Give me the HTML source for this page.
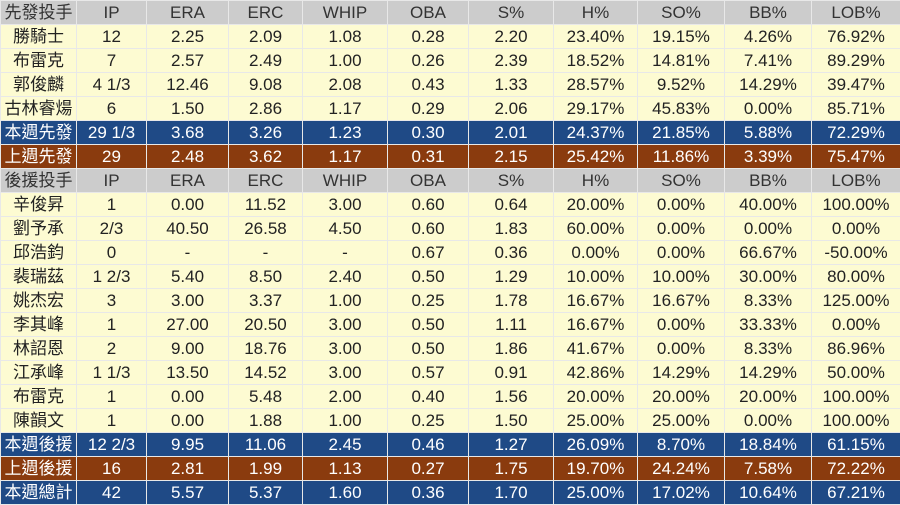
<!DOCTYPE html>
<html><head><meta charset="utf-8"><style>
body{margin:0;width:900px;height:504px;background:#fff;overflow:hidden}
table{border-collapse:collapse;table-layout:fixed;width:900px;font-family:"Liberation Sans","Noto Sans CJK TC",sans-serif;font-size:17px}
td{height:23px;padding:0;border:1px solid #e8e8e8;text-align:center;color:#222;background:#fdfbd2;line-height:23px;white-space:nowrap;overflow:hidden}
tr.h td{background:#cccccc;color:#333}
tr.b td{background:#1f4a86;color:#fff}
tr.r td{background:#8a3b0e;color:#fff}
</style></head><body>
<table>
<colgroup><col style="width:76px"><col style="width:70px"><col style="width:82px"><col style="width:74px"><col style="width:85px"><col style="width:81px"><col style="width:85px"><col style="width:84px"><col style="width:87px"><col style="width:87px"><col style="width:89px"></colgroup>
<tr class="h"><td>先發投手</td><td>IP</td><td>ERA</td><td>ERC</td><td>WHIP</td><td>OBA</td><td>S%</td><td>H%</td><td>SO%</td><td>BB%</td><td>LOB%</td></tr>
<tr><td>勝騎士</td><td>12</td><td>2.25</td><td>2.09</td><td>1.08</td><td>0.28</td><td>2.20</td><td>23.40%</td><td>19.15%</td><td>4.26%</td><td>76.92%</td></tr>
<tr><td>布雷克</td><td>7</td><td>2.57</td><td>2.49</td><td>1.00</td><td>0.26</td><td>2.39</td><td>18.52%</td><td>14.81%</td><td>7.41%</td><td>89.29%</td></tr>
<tr><td>郭俊麟</td><td>4 1/3</td><td>12.46</td><td>9.08</td><td>2.08</td><td>0.43</td><td>1.33</td><td>28.57%</td><td>9.52%</td><td>14.29%</td><td>39.47%</td></tr>
<tr><td>古林睿煬</td><td>6</td><td>1.50</td><td>2.86</td><td>1.17</td><td>0.29</td><td>2.06</td><td>29.17%</td><td>45.83%</td><td>0.00%</td><td>85.71%</td></tr>
<tr class="b"><td>本週先發</td><td>29 1/3</td><td>3.68</td><td>3.26</td><td>1.23</td><td>0.30</td><td>2.01</td><td>24.37%</td><td>21.85%</td><td>5.88%</td><td>72.29%</td></tr>
<tr class="r"><td>上週先發</td><td>29</td><td>2.48</td><td>3.62</td><td>1.17</td><td>0.31</td><td>2.15</td><td>25.42%</td><td>11.86%</td><td>3.39%</td><td>75.47%</td></tr>
<tr class="h"><td>後援投手</td><td>IP</td><td>ERA</td><td>ERC</td><td>WHIP</td><td>OBA</td><td>S%</td><td>H%</td><td>SO%</td><td>BB%</td><td>LOB%</td></tr>
<tr><td>辛俊昇</td><td>1</td><td>0.00</td><td>11.52</td><td>3.00</td><td>0.60</td><td>0.64</td><td>20.00%</td><td>0.00%</td><td>40.00%</td><td>100.00%</td></tr>
<tr><td>劉予承</td><td>2/3</td><td>40.50</td><td>26.58</td><td>4.50</td><td>0.60</td><td>1.83</td><td>60.00%</td><td>0.00%</td><td>0.00%</td><td>0.00%</td></tr>
<tr><td>邱浩鈞</td><td>0</td><td>-</td><td>-</td><td>-</td><td>0.67</td><td>0.36</td><td>0.00%</td><td>0.00%</td><td>66.67%</td><td>-50.00%</td></tr>
<tr><td>裴瑞茲</td><td>1 2/3</td><td>5.40</td><td>8.50</td><td>2.40</td><td>0.50</td><td>1.29</td><td>10.00%</td><td>10.00%</td><td>30.00%</td><td>80.00%</td></tr>
<tr><td>姚杰宏</td><td>3</td><td>3.00</td><td>3.37</td><td>1.00</td><td>0.25</td><td>1.78</td><td>16.67%</td><td>16.67%</td><td>8.33%</td><td>125.00%</td></tr>
<tr><td>李其峰</td><td>1</td><td>27.00</td><td>20.50</td><td>3.00</td><td>0.50</td><td>1.11</td><td>16.67%</td><td>0.00%</td><td>33.33%</td><td>0.00%</td></tr>
<tr><td>林詔恩</td><td>2</td><td>9.00</td><td>18.76</td><td>3.00</td><td>0.50</td><td>1.86</td><td>41.67%</td><td>0.00%</td><td>8.33%</td><td>86.96%</td></tr>
<tr><td>江承峰</td><td>1 1/3</td><td>13.50</td><td>14.52</td><td>3.00</td><td>0.57</td><td>0.91</td><td>42.86%</td><td>14.29%</td><td>14.29%</td><td>50.00%</td></tr>
<tr><td>布雷克</td><td>1</td><td>0.00</td><td>5.48</td><td>2.00</td><td>0.40</td><td>1.56</td><td>20.00%</td><td>20.00%</td><td>20.00%</td><td>100.00%</td></tr>
<tr><td>陳韻文</td><td>1</td><td>0.00</td><td>1.88</td><td>1.00</td><td>0.25</td><td>1.50</td><td>25.00%</td><td>25.00%</td><td>0.00%</td><td>100.00%</td></tr>
<tr class="b"><td>本週後援</td><td>12 2/3</td><td>9.95</td><td>11.06</td><td>2.45</td><td>0.46</td><td>1.27</td><td>26.09%</td><td>8.70%</td><td>18.84%</td><td>61.15%</td></tr>
<tr class="r"><td>上週後援</td><td>16</td><td>2.81</td><td>1.99</td><td>1.13</td><td>0.27</td><td>1.75</td><td>19.70%</td><td>24.24%</td><td>7.58%</td><td>72.22%</td></tr>
<tr class="b"><td>本週總計</td><td>42</td><td>5.57</td><td>5.37</td><td>1.60</td><td>0.36</td><td>1.70</td><td>25.00%</td><td>17.02%</td><td>10.64%</td><td>67.21%</td></tr>
</table>
</body></html>
